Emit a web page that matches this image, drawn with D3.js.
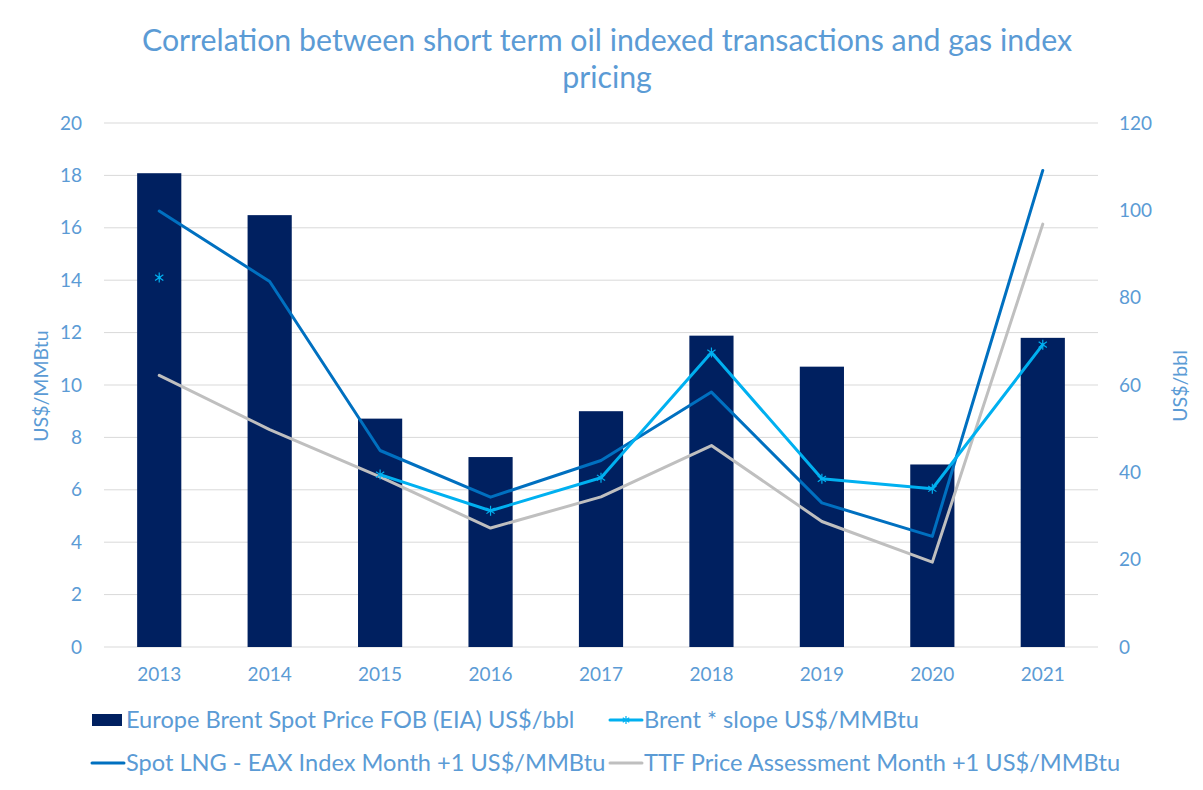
<!DOCTYPE html>
<html>
<head>
<meta charset="utf-8">
<script src="https://cdn.jsdelivr.net/npm/d3@7"></script>
<style>
  body { margin: 0; background: #fff; }
  #chart { width: 1203px; height: 790px; }
  text { font-family: Lato, "Open Sans", sans-serif; }
</style>
</head>
<body>
<div id="chart"></div>
<script>
// Data
const years = ["2013", "2014", "2015", "2016", "2017", "2018", "2019", "2020", "2021"];
const brentSpot = [108.5, 98.9, 52.3, 43.5, 54.0, 71.3, 64.2, 41.8, 70.8];       // US$/bbl, right axis
const brentSlope = [14.1, null, 6.58, 5.2, 6.46, 11.24, 6.42, 6.04, 11.54];       // US$/MMBtu
const spotLng = [16.64, 13.95, 7.5, 5.72, 7.12, 9.73, 5.5, 4.22, 18.19];         // US$/MMBtu
const ttf = [10.37, 8.3, 6.49, 4.54, 5.73, 7.69, 4.79, 3.24, 16.14];             // US$/MMBtu
const leftTicks = [0, 2, 4, 6, 8, 10, 12, 14, 16, 18, 20];
const rightTicks = [0, 20, 40, 60, 80, 100, 120];

const labelColor = "#5B9BD5";
const colors = { bar: "#002060", slope: "#00B0F0", lng: "#0070C0", ttf: "#BFBFBF" };

const width = 1203, height = 790;
const margin = { top: 123, right: 105, bottom: 143, left: 104 };
const w = width - margin.left - margin.right;
const h = height - margin.top - margin.bottom;
const tickFont = 19;

const svg = d3.select("#chart").append("svg")
  .attr("width", width).attr("height", height);

// Title
svg.append("text")
  .attr("x", 607).attr("text-anchor", "middle")
  .attr("font-size", 30.3).attr("fill", labelColor)
  .selectAll("tspan")
  .data(["Correlation between short term oil indexed transactions and gas index", "pricing"])
  .join("tspan")
  .attr("x", 607)
  .attr("y", (d, i) => 51 + i * 37)
  .text(d => d);

const g = svg.append("g").attr("transform", `translate(${margin.left},${margin.top})`);

const x = d3.scaleBand().domain(years).range([0, w]).paddingInner(0.6).paddingOuter(0.3);
const xc = d => x(d) + x.bandwidth() / 2;
const yL = d3.scaleLinear().domain([0, 20]).range([h, 0]);
const yR = d3.scaleLinear().domain([0, 120]).range([h, 0]);

// Gridlines
g.append("g").selectAll("line")
  .data(leftTicks)
  .join("line")
  .attr("x1", 0).attr("x2", w)
  .attr("y1", d => yL(d)).attr("y2", d => yL(d))
  .attr("stroke", "#D9D9D9").attr("stroke-width", 1);

const styleAxis = (sel) => {
  sel.select(".domain").remove();
  sel.selectAll("text").attr("font-size", tickFont).attr("fill", labelColor)
    .style("font-family", "Lato, 'Open Sans', sans-serif");
};

// Left axis
g.append("g")
  .call(d3.axisLeft(yL).tickValues(leftTicks).tickSize(0).tickPadding(22))
  .call(styleAxis);

// Right axis
g.append("g").attr("transform", `translate(${w},0)`)
  .call(d3.axisRight(yR).tickValues(rightTicks).tickSize(0).tickPadding(21))
  .call(styleAxis);

// Bottom axis
g.append("g").attr("transform", `translate(0,${h})`)
  .call(d3.axisBottom(x).tickSize(0).tickPadding(21))
  .call(styleAxis);

// Axis titles
svg.append("text")
  .attr("transform", "rotate(-90)")
  .attr("x", -386).attr("y", 48)
  .attr("text-anchor", "middle").attr("font-size", 19.5).attr("fill", labelColor)
  .text("US$/MMBtu");
svg.append("text")
  .attr("transform", "rotate(-90)")
  .attr("x", -386).attr("y", 1187)
  .attr("text-anchor", "middle").attr("font-size", 19.5).attr("fill", labelColor)
  .text("US$/bbl");

// Bars
g.append("g").selectAll("rect")
  .data(brentSpot)
  .join("rect")
  .attr("x", (d, i) => x(years[i]))
  .attr("y", d => yR(d))
  .attr("width", x.bandwidth())
  .attr("height", d => h - yR(d))
  .attr("fill", colors.bar);

// Lines
const line = d3.line()
  .defined(d => d.v != null)
  .x(d => xc(d.year))
  .y(d => yL(d.v));

const series = [
  { key: "ttf", values: ttf },
  { key: "lng", values: spotLng },
  { key: "slope", values: brentSlope }
];

series.forEach(s => {
  const pts = s.values.map((v, i) => ({ year: years[i], v }));
  g.append("path")
    .datum(pts)
    .attr("d", line)
    .attr("fill", "none")
    .attr("stroke", colors[s.key])
    .attr("stroke-width", 3)
    .attr("stroke-linejoin", "round")
    .attr("stroke-linecap", "round");
});

// Asterisk markers for the Brent * slope series
const star = (sel, cx, cy, r) => {
  [0, 55, 125].forEach(a => {
    const rad = a * Math.PI / 180;
    sel.append("line")
      .attr("x1", cx - r * Math.sin(rad)).attr("y1", cy - r * Math.cos(rad))
      .attr("x2", cx + r * Math.sin(rad)).attr("y2", cy + r * Math.cos(rad))
      .attr("stroke", colors.slope).attr("stroke-width", 1.2);
  });
};
const markers = g.append("g");
brentSlope.forEach((v, i) => {
  if (v != null) star(markers, xc(years[i]), yL(v), 5);
});

// Legend
const legendItems = [
  { label: "Europe Brent Spot Price FOB (EIA) US$/bbl", type: "bar", color: colors.bar, x: 92, y: 720 },
  { label: "Brent * slope US$/MMBtu", type: "marker", color: colors.slope, x: 610, y: 720 },
  { label: "Spot LNG - EAX Index Month +1 US$/MMBtu", type: "line", color: colors.lng, x: 92, y: 763 },
  { label: "TTF Price Assessment Month +1 US$/MMBtu", type: "line", color: colors.ttf, x: 610, y: 763 }
];
const legend = svg.append("g");
legendItems.forEach(d => {
  const item = legend.append("g");
  if (d.type === "bar") {
    item.append("rect").attr("x", d.x).attr("y", d.y - 6).attr("width", 30).attr("height", 12).attr("fill", d.color);
  } else {
    item.append("line").attr("x1", d.x).attr("x2", d.x + 32).attr("y1", d.y).attr("y2", d.y)
      .attr("stroke", d.color).attr("stroke-width", 3).attr("stroke-linecap", "round");
    if (d.type === "marker") star(item, d.x + 16, d.y, 4);
  }
  item.append("text")
    .attr("x", d.x + 34).attr("y", d.y)
    .attr("dy", "0.35em")
    .attr("font-size", 23.6).attr("fill", labelColor)
    .text(d.label);
});
</script>
</body>
</html>
